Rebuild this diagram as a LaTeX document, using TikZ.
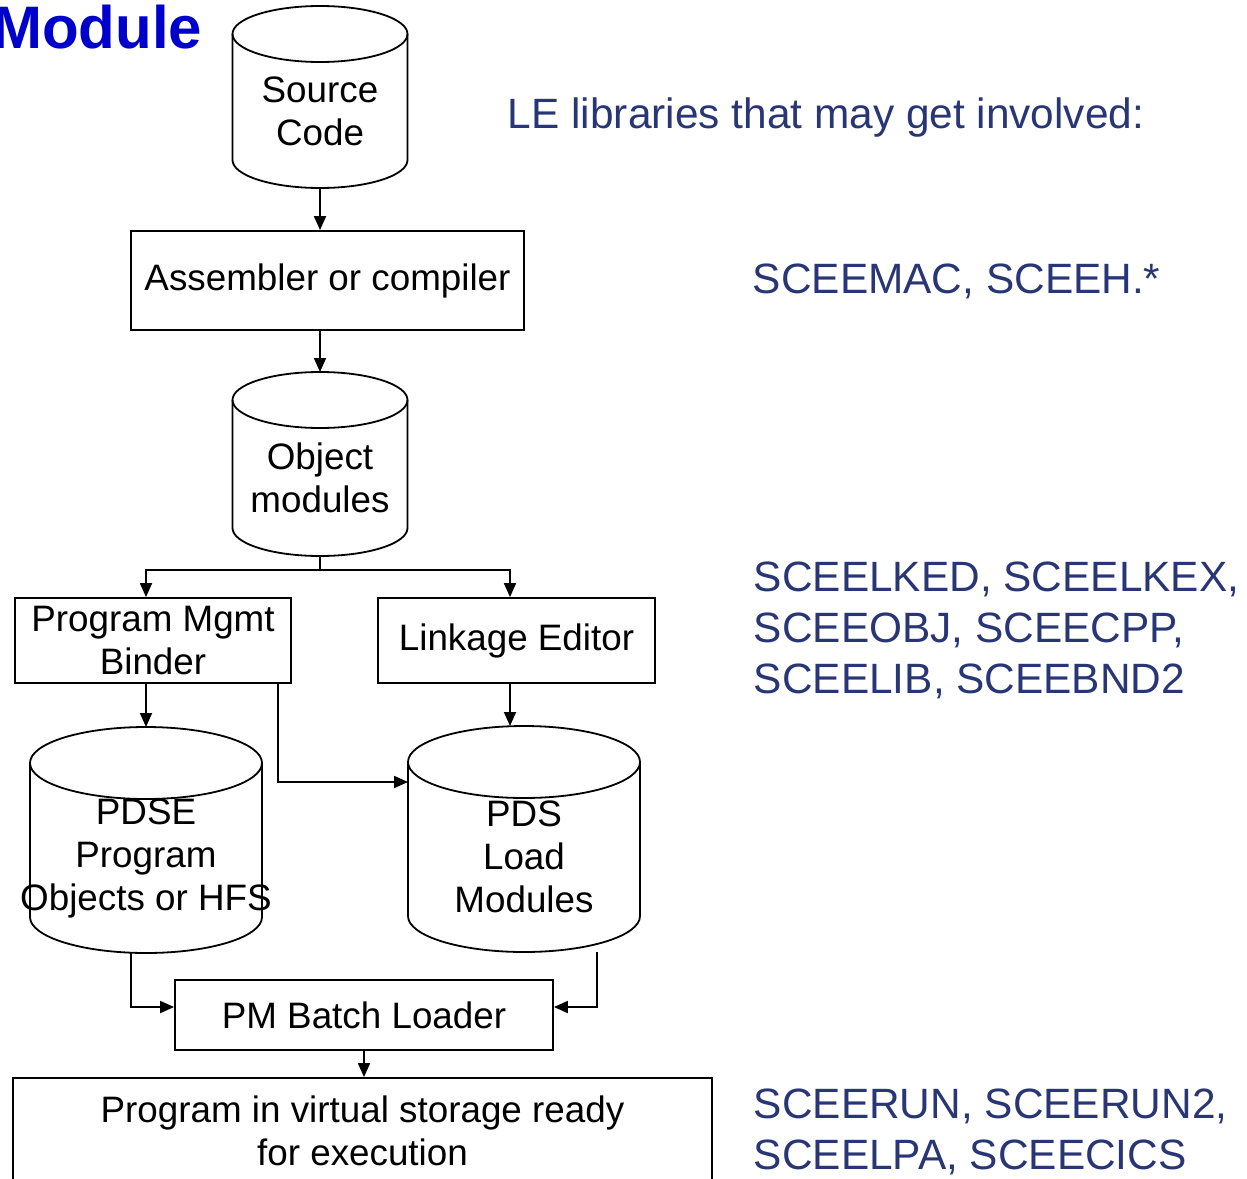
\documentclass[tikz,border=0pt]{standalone}
\usepackage{fontspec}
\setmainfont{Liberation Sans}
\usepackage{tikz}
\usetikzlibrary{arrows.meta, positioning, calc}
\definecolor{libblue}{RGB}{41,54,117}
\definecolor{titleblue}{RGB}{0,0,204}
\newcommand{\storecyl}[3]{%
\draw (#1.north west)--([yshift=#3]#1.south west) arc[start angle=180, end angle=360, x radius=#2, y radius=#3]--(#1.north east);
\draw (#1.north) ellipse[x radius=#2, y radius=#3];
\coordinate (#1 top) at ([yshift=#3]#1.north);}

\begin{document}
\begin{tikzpicture}[x=.5pt, y=.5pt, >={Triangle[length=7pt, width=6pt]}, line width=.9pt,
  stepbox/.style={draw, inner sep=0pt, align=center, font=\fontsize{18.4}{21.5}\selectfont},
  cylnode/.style={inner sep=0pt, outer sep=0pt, align=center, font=\fontsize{18.4}{21.5}\selectfont},
  libtext/.style={text=libblue, anchor=base west, inner sep=0pt, align=left, font=\fontsize{21.2}{25.3}\selectfont}]
\useasboundingbox (0,0) rectangle (1247,-1178);
\clip (0,0) rectangle (1247,-1178);
\node[text=titleblue, font=\fontsize{30}{36}\selectfont\bfseries, anchor=base east, inner sep=0pt] (title) at (203,-48) {Module};
\node[cylnode, minimum width=87.5pt, minimum height=77pt] (src) at (320,-111) {Source\\Code};
\storecyl{src}{43.75pt}{14pt}
\node[stepbox, minimum width=196.5pt, minimum height=49.5pt] (asm) at (327.5,-280.5) {Assembler or compiler};
\node[cylnode, minimum width=87.5pt, minimum height=78pt] (obj) at (320,-478) {Object\\modules};
\storecyl{obj}{43.75pt}{14pt}
\node[stepbox, minimum width=138pt, minimum height=42.5pt] (pmb) at (153,-640.5) {Program Mgmt\\Binder};
\node[stepbox, minimum width=138.5pt, minimum height=42.5pt] (lke) at (516.5,-640.5) {Linkage Editor};
\node[cylnode, minimum width=116pt, minimum height=95pt] (pdse) at (146,-858) {PDSE\\Program\\\makebox[0pt]{Objects or HFS}};
\storecyl{pdse}{58pt}{18pt}
\node[cylnode, minimum width=116pt, minimum height=95pt] (pds) at (524,-857) {PDS\\Load\\Modules};
\storecyl{pds}{58pt}{18pt}
\node[stepbox, minimum width=189pt, minimum height=35pt] (pmbl) at (364,-1015) {PM Batch Loader};
\node[stepbox, minimum width=349.5pt, minimum height=53pt] (ready) at (362.5,-1131) {Program in virtual storage ready\\for execution};
\draw[->] (src.south) -- (src.south |- asm.north);
\draw[->] (obj top |- asm.south) -- (obj top);
\draw[->] (obj.south) -- ++(0,-14) -| (pmb.north -| pdse top);
\draw[->] (obj.south) -- ++(0,-14) -| ([xshift=-3.25pt]lke.north);
\draw[->] (pmb.south -| pdse top) -- (pdse top);
\draw[->] ([xshift=-3.25pt]lke.south) -- ([xshift=-3.25pt]lke.south |- pds top);
\draw[->] ([xshift=-7pt]pmb.south east) |- ([yshift=-10pt]pds.north west);
\draw[->] ([xshift=-7.5pt]pdse.south) |- ([yshift=4pt]pmbl.west);
\draw[->] ([xshift=36.5pt]pds.south) |- ([yshift=4pt]pmbl.east);
\draw[->] (pmbl.south) -- (pmbl.south |- ready.north);
\node[libtext] (le) at (507,-128) {LE libraries that may get involved:};
\node[libtext] (hdr) at (752,-293) {SCEEMAC, SCEEH.*};
\node[libtext] (lked) at (753,-693) {SCEELKED, SCEELKEX,\\SCEEOBJ, SCEECPP,\\SCEELIB, SCEEBND2};
\node[libtext] (run) at (753,-1169) {SCEERUN, SCEERUN2,\\SCEELPA, SCEECICS};
\end{tikzpicture}
\end{document}
